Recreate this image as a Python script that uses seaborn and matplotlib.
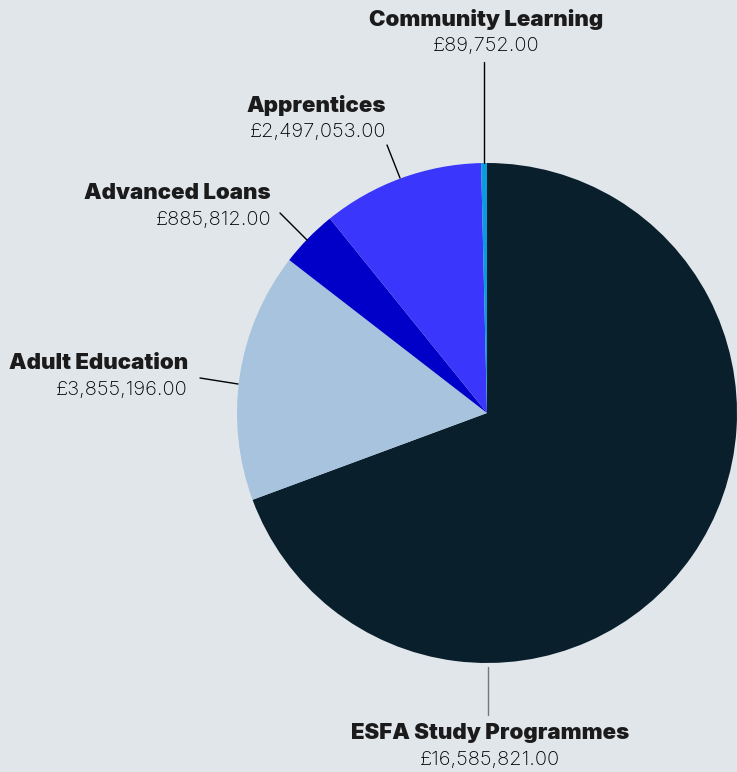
import matplotlib
matplotlib.use('Agg')
import matplotlib.pyplot as plt
import seaborn as sns

# funding streams
streams = ['ESFA Study Programmes', 'Adult Education', 'Advanced Loans',
           'Apprentices', 'Community Learning']
amounts = [16585821.00, 3855196.00, 885812.00, 2497053.00, 89752.00]
colours = ['#0a1f2c', '#a7c3de', '#0000c8', '#3a36fc', '#0b9be0']

bg = '#e1e6eb'
W, H = 737, 772

sns.set_theme(style='white')
plt.rcParams['font.family'] = ['Inter', 'DejaVu Sans']

fig = plt.figure(figsize=(W / 100, H / 100), dpi=100)
fig.patch.set_facecolor(bg)
ax = fig.add_axes([0, 0, 1, 1])
ax.set_facecolor(bg)

# pie centre / radius in pixel space (y flipped, so wedge direction flips too)
cx, cy, r = 487, 413, 250
ax.pie(amounts, colors=colours, startangle=-90, counterclock=True,
       center=(cx, cy), radius=r, frame=True,
       wedgeprops=dict(linewidth=0))
ax.set_xlim(0, W)
ax.set_ylim(H, 0)
ax.axis('off')


def fmt(v):
    return '£{:,.2f}'.format(v)


# label anchors: (x, y of title, alignment, leader line, line colour)
label_pos = {
    'Community Learning': (486, 19, 'center', [(484, 62), (484, 163)], 'black'),
    'Apprentices': (386, 105, 'right', [(387, 145), (400, 178)], 'black'),
    'Advanced Loans': (271, 193, 'right', [(280, 213), (307, 240)], 'black'),
    'Adult Education': (188, 363, 'right', [(200, 378), (238, 384)], 'black'),
    'ESFA Study Programmes': (490, 733, 'center', [(488, 667), (488, 715)], '#777777'),
}

for name, val in zip(streams, amounts):
    x, y, ha, line, lc = label_pos[name]
    ax.text(x, y, name, ha=ha, va='center', fontsize=16, fontweight='black',
            color='#1b1b1b')
    ax.text(x, y + 27, fmt(val), ha=ha, va='center', fontsize=14.5,
            fontweight='light', color='#000000')
    ax.plot([line[0][0], line[1][0]], [line[0][1], line[1][1]],
            color=lc, linewidth=1)

plt.savefig('out.png', dpi=100, facecolor=bg)
plt.close()
